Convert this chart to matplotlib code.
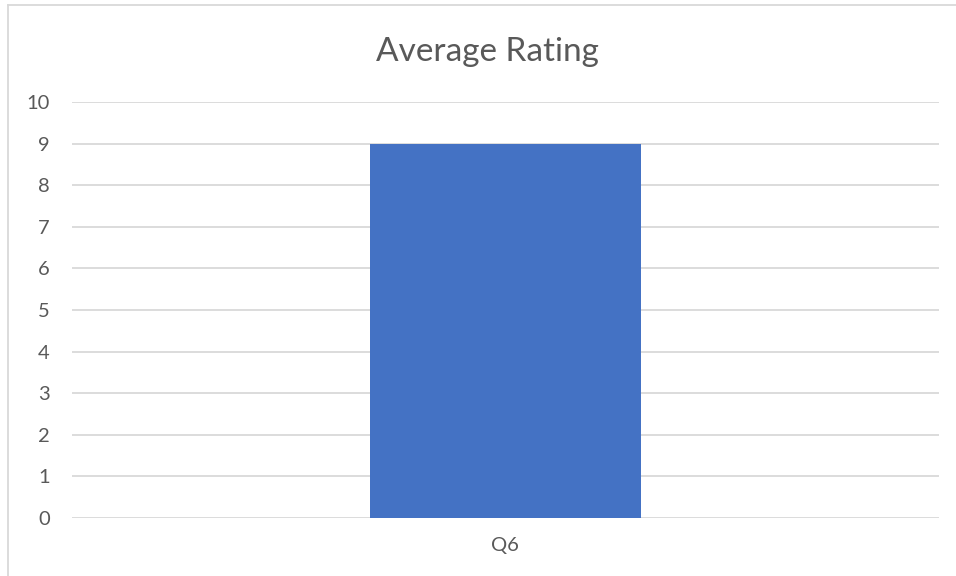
import matplotlib.pyplot as plt
from matplotlib.lines import Line2D

categories = ["Q6"]
values = [9]
y_ticks = list(range(0, 11))

TEXT = "#595959"
GRID = "#d9d9d9"
BAR = "#4472c4"


def main():
    plt.rcParams["font.family"] = ["Lato", "DejaVu Sans"]
    fig = plt.figure(figsize=(9.56, 5.76), dpi=100)
    ax = fig.add_axes([0.0753, 0.1007, 0.9067, 0.7222])

    ax.bar(categories, values, width=0.312, color=BAR, zorder=3)
    ax.set_xlim(-0.5, 0.5)
    ax.set_ylim(0, 10)
    ax.set_yticks(y_ticks)
    ax.grid(axis="y", color=GRID, linewidth=1.3, zorder=0)
    for s in ax.spines.values():
        s.set_visible(False)
    ax.tick_params(axis="both", length=0, colors=TEXT, labelsize=14.5)
    ax.tick_params(axis="y", pad=16)
    ax.tick_params(axis="x", pad=14)

    fig.text(0.51, 0.91, "Average Rating", ha="center", va="center",
             fontsize=24, color=TEXT)

    # chart frame, only left and top edges visible in the crop
    fig.add_artist(Line2D([7.5 / 956, 7.5 / 956], [0, 1 - 4.5 / 576],
                          transform=fig.transFigure, color=GRID, lw=1.3))
    fig.add_artist(Line2D([7.5 / 956, 1], [1 - 4.5 / 576, 1 - 4.5 / 576],
                          transform=fig.transFigure, color=GRID, lw=1.3))

    fig.savefig("out.png", dpi=100)


if __name__ == "__main__":
    main()
